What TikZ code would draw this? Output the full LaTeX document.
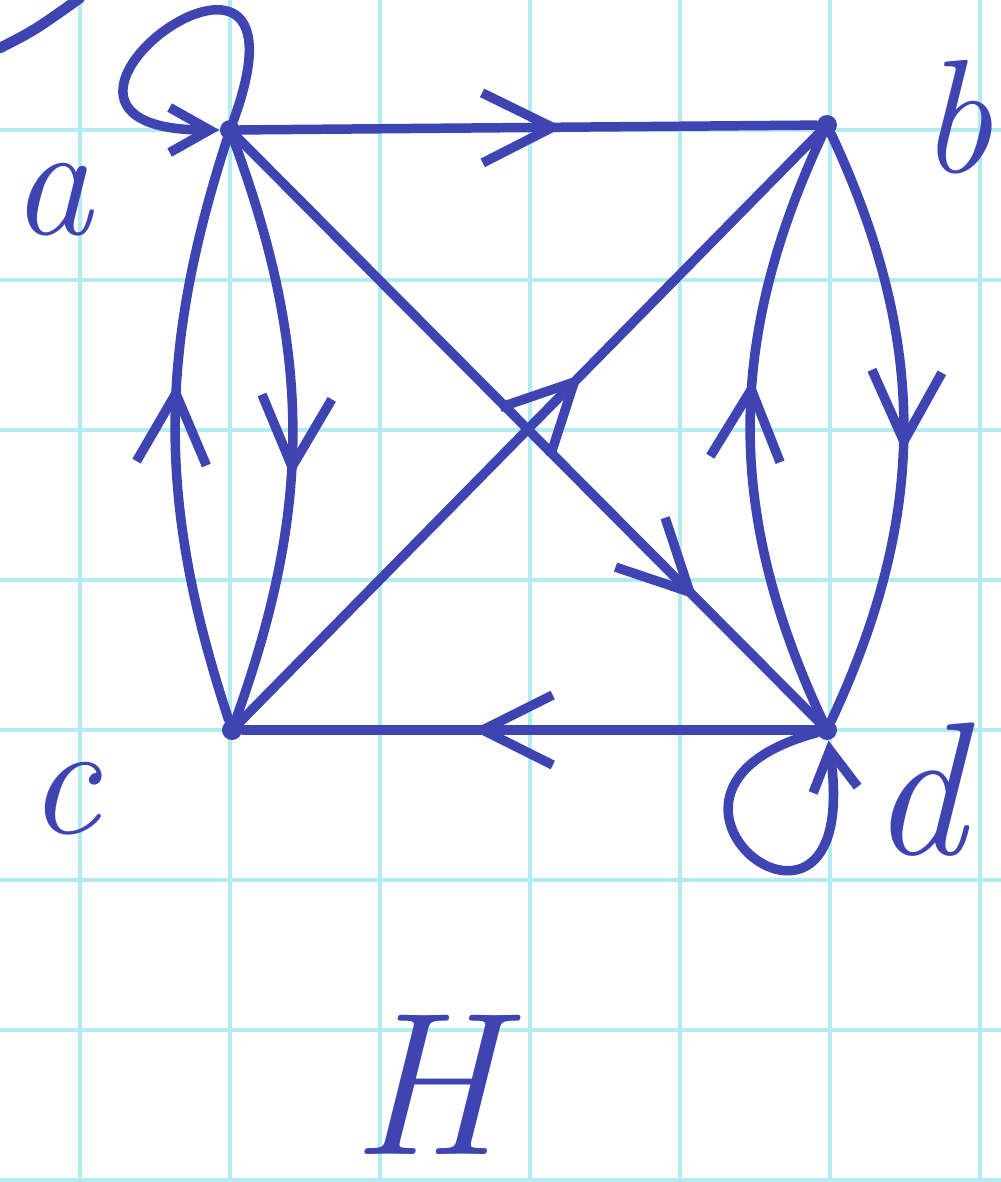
\documentclass[tikz,border=0pt]{standalone}
\usetikzlibrary{arrows.meta, decorations.markings}
\definecolor{PenBlue}{RGB}{62, 68, 178}
\definecolor{GridCyan}{RGB}{178, 236, 240}

\begin{document}
\begin{tikzpicture}[
    vertex/.style={circle, fill=PenBlue, inner sep=0pt, minimum size=2mm},
    edge/.style={draw=PenBlue, line width=2.7pt, line cap=round},
    midarrow/.style={postaction={decorate, decoration={markings, mark=at position #1 with {\arrow[PenBlue]{Straight Barb[length=7mm, width=7mm]}}}}},
    looparrow/.style={-{Straight Barb[length=4mm, width=4.5mm]}},
    letter/.style={text=PenBlue, font=\fontsize{46}{50}\selectfont\itshape, inner sep=0pt}
]
\useasboundingbox (0,0) rectangle (10.01,-11.82);
\fill[white] (0,0) rectangle (10.01,-11.82);
\foreach \x in {0.8,2.3,3.8,5.3,6.8,8.3,9.8}
    \draw[GridCyan, line width=1pt] (\x,0) -- (\x,-11.82);
\foreach \y in {-1.3,-2.8,-4.3,-5.8,-7.3,-8.8,-10.3,-11.8}
    \draw[GridCyan, line width=1pt] (0,\y) -- (10.01,\y);

% pen stroke in the corner
\draw[edge, line width=3pt] (0,-0.48) .. controls (0.35,-0.3) .. (0.8,0.02);

\node[vertex] (a) at (2.30,-1.30) {};
\node[vertex] (b) at (8.27,-1.25) {};
\node[vertex] (c) at (2.32,-7.30) {};
\node[vertex] (d) at (8.27,-7.30) {};

\node[letter] (la) at (0.52,-2.00) {a};
\node[letter] (lb) at (9.56,-1.17) {b};
\node[letter] (lc) at (0.64,-7.99) {c};
\node[letter, font=\fontsize{54}{58}\selectfont\itshape] (ld) at (9.18,-7.90) {d};
\node[letter, font=\fontsize{58}{62}\selectfont\itshape] (title) at (4.26,-10.85) {H};

\draw[edge, midarrow=0.56] (a) -- (b);
\draw[edge, midarrow=0.79] (a) -- (d);
\draw[edge, midarrow=0.59] (c) -- (b);
\draw[edge, midarrow=0.60] (d) -- (c);
\draw[edge, midarrow=0.58] (a) to[bend left=20] (c);
\draw[edge, midarrow=0.58] (c) to[bend left=18] (a);
\draw[edge, midarrow=0.54] (b) to[bend left=25] (d);
\draw[edge, midarrow=0.58] (d) to[bend left=25] (b);

\draw[edge, looparrow] (a) to[out=70, in=180, out distance=2.7cm, in distance=2.5cm] (a);
\draw[edge, looparrow] (d) to[out=195, in=-82, out distance=2.3cm, in distance=2.6cm] (d);
\end{tikzpicture}
\end{document}
